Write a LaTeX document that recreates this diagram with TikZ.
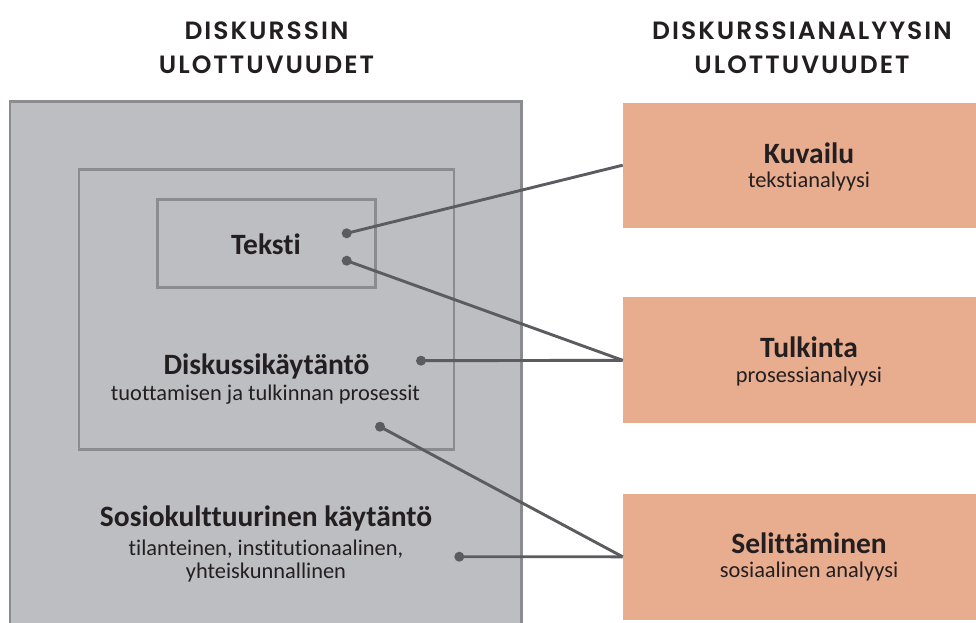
\documentclass[tikz,border=0pt]{standalone}
\usepackage{fontspec}
\setmainfont{Carlito}[Ligatures=NoCommon]
\newfontfamily\headfont{Poppins}[UprightFont=* SemiBold, LetterSpace=8]
\definecolor{boxgray}{HTML}{BDBEC2}
\definecolor{framegray}{HTML}{8B8C8F}
\definecolor{linegray}{HTML}{5B5C60}
\definecolor{peach}{HTML}{E8AC8F}
\definecolor{ink}{HTML}{231F20}
\begin{document}
\begin{tikzpicture}[x=1pt,y=-1pt,
  frame/.style={draw=framegray, line width=2.6pt, fill=boxgray, anchor=north west, inner sep=0pt, outer sep=0pt},
  dotnode/.style={circle, fill=linegray, inner sep=0pt, minimum size=10pt},
  conn/.style={draw=linegray, line width=2.9pt},
  rbox/.style={fill=peach, minimum width=373pt, inner sep=0pt, outer sep=0pt},
  ttl/.style={font=\fontsize{29.5}{32}\selectfont\bfseries, text=ink, anchor=base, inner sep=0pt},
  sub/.style={font=\fontsize{22.4}{25}\selectfont, text=ink, anchor=base, inner sep=0pt},
  head/.style={font=\headfont\fontsize{25}{28}\selectfont, text=ink, anchor=base, inner sep=0pt}]
\useasboundingbox (0,0) rectangle (976,623);
\clip (0,0) rectangle (976,623);
\fill[white] (0,0) rectangle (976,623);

% headings
\node[head] (hl1) at (266.5,39.3) {DISKURSSIN};
\node[head] (hl2) at (266.5,73.3) {ULOTTUVUUDET};
\node[head] (hr1) at (802,39.3) {DISKURSSIANALYYSIN};
\node[head] (hr2) at (802,73.3) {ULOTTUVUUDET};

% nested boxes
\node[frame, minimum width=511.7pt, minimum height=560pt] (outer) at (10,101.7) {};
\node[frame, minimum width=375pt, minimum height=280pt] (middle) at (79,169.3) {};
\node[frame, minimum width=218.4pt, minimum height=88.4pt] (inner) at (157.3,199.3) {};

% right boxes
\node[rbox, minimum height=125pt] (kuv) at (809.2,165.2) {};
\node[rbox, minimum height=126pt] (tul) at (809.2,360.3) {};
\node[rbox, minimum height=125.7pt] (sel) at (809.2,556.8) {};

% left texts
\node[ttl] (teksti) at (266,254) {Teksti};
\node[ttl] (disk) at (266.5,374) {Diskussikäytäntö};
\node[sub] (diskS) at (265.5,400) {tuottamisen ja tulkinnan prosessit};
\node[ttl] (sosio) at (266,526) {Sosiokulttuurinen käytäntö};
\node[sub] (sosioS1) at (266,555) {tilanteinen, institutionaalinen,};
\node[sub] (sosioS2) at (266,578) {yhteiskunnallinen};

% right texts
\node[ttl] (kuvT) at (809,163.5) {Kuvailu};
\node[sub] (kuvS) at (809,187) {tekstianalyysi};
\node[ttl] (tulT) at (809,357.5) {Tulkinta};
\node[sub] (tulS) at (809,382) {prosessianalyysi};
\node[ttl] (selT) at (809,553) {Selittäminen};
\node[sub] (selS) at (809,577) {sosiaalinen analyysi};

% dots
\node[dotnode] (d1) at (346.7,233.3) {};
\node[dotnode] (d2) at (346.7,260.7) {};
\node[dotnode] (d3) at (421,360.7) {};
\node[dotnode] (d4) at (380,426.7) {};
\node[dotnode] (d5) at (459.3,556.7) {};

% connectors
\draw[conn] (d1.center) -- (kuv.west);
\draw[conn] (d2.center) -- (tul.west);
\draw[conn] (d3.center) -- (tul.west);
\draw[conn] (d4.center) -- (sel.west);
\draw[conn] (d5.center) -- (sel.west);
\end{tikzpicture}
\end{document}
